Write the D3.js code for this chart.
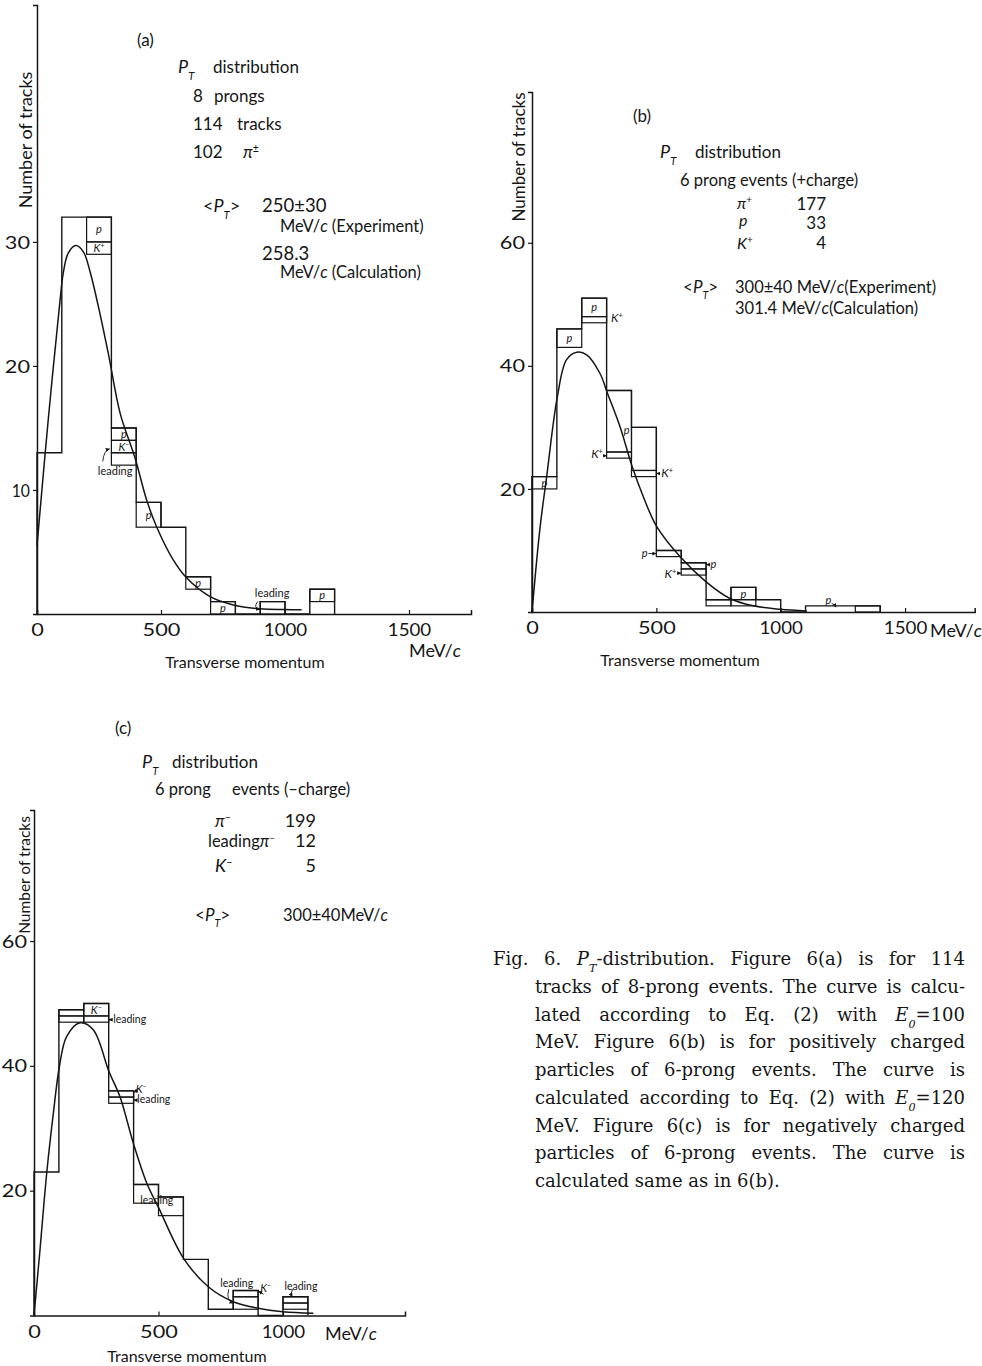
<!DOCTYPE html>
<html>
<head>
<meta charset="utf-8">
<script src="https://cdn.jsdelivr.net/npm/d3@7"></script>
<style>
  body { margin: 0; background: #fff; }
  svg { display: block; }
  text { fill: #151515; font-family: Lato, "Open Sans", sans-serif; }
</style>
</head>
<body>
<svg id="fig" width="982" height="1366"></svg>
<script>
// ---------- Panel (a): 8-prong events ----------
const binStartA = [0, 100, 200, 300, 400, 500, 600, 700, 800, 900, 1000, 1100];
const countsA   = [13, 32, 32, 15, 9, 7, 3, 1, 0, 1, 0, 2];
// sub-boxes stacked on the bins: [bin start, lower, upper, label]
const boxesA = [
  [200, 30, 32, "p"], [200, 29, 30, "K+"],
  [300, 14, 15, "p"], [300, 13, 14, "K-"], [300, 12, 13, ""],
  [400, 7, 9, "p"], [600, 2, 3, "p"], [700, 0, 1, "p"],
  [900, 0, 1, ""], [1100, 1, 2, "p"]
];
const curveA = [[0, 5.5], [45, 15.6], [93, 25.3], [106, 27.5], [126, 29.1], [157, 29.7], [187, 29.2],
  [214, 27.6], [254, 24.2], [290, 20.75], [335, 16.2], [395, 12.6], [442, 9.2], [483, 7.0],
  [550, 4.35], [604, 2.9], [698, 1.4], [792, 0.73], [899, 0.42], [1000, 0.36], [1067, 0.34]];
const xTicksA = [0, 500, 1000, 1500];
const yTicksA = [10, 20, 30];

// ---------- Panel (b): 6-prong events, positive charge ----------
const binStartB = [0, 100, 200, 300, 400, 500, 600, 700, 800, 900, 1000, 1100, 1200, 1300];
const countsB   = [22, 46, 51, 36, 30, 10, 8, 2, 4, 2, 0, 1, 1, 1];
const boxesB = [
  [0, 20, 22, "p"], [100, 43, 46, "p"], [200, 48, 51, "p"], [200, 47, 48, ""],
  [300, 26, 36, ""], [300, 25, 26, ""], [400, 23, 30, ""], [400, 22, 23, ""],
  [500, 9, 10, ""], [600, 7, 8, ""], [600, 6, 7, ""],
  [700, 1, 2, ""], [800, 2, 4, "p"], [800, 1, 2, ""], [1300, 0, 1, ""]
];
const curveB = [[0, 0], [32, 13.6], [59, 22], [102, 35], [139, 41], [180, 42.2], [220, 41.8],
  [273, 38.8], [303, 35.6], [354, 30.1], [403, 23.6], [448, 18.7], [501, 13.9], [595, 9.0],
  [700, 4.9], [796, 2.2], [890, 1.0], [997, 0.45], [1105, 0.18]];
const xTicksB = [0, 500, 1000, 1500];
const yTicksB = [20, 40, 60];

// ---------- Panel (c): 6-prong events, negative charge ----------
const binStartC = [0, 100, 200, 300, 400, 500, 600, 700, 800, 900, 1000];
const countsC   = [23, 49, 50, 36, 21, 19, 9, 1, 4, 0, 3];
const boxesC = [
  [100, 48, 49, ""], [100, 47, 48, ""], [200, 48, 50, "K-"], [200, 47, 48, ""],
  [300, 35, 36, ""], [300, 34, 35, ""], [400, 18, 21, ""], [500, 16, 19, ""],
  [800, 3, 4, ""], [800, 1, 3, ""], [1000, 2, 3, ""], [1000, 1, 2, ""]
];
const curveC = [[0, 0], [24, 10.5], [51, 22.8], [78, 32.5], [102, 39.9], [131, 44.7], [185, 46.9],
  [238, 45.8], [301, 39.1], [345, 35.1], [399, 27.6], [453, 21.2], [499, 17.4], [600, 9.2],
  [700, 4.6], [800, 2.2], [901, 1.15], [1000, 0.6], [1122, 0.35]];
const xTicksC = [0, 500, 1000];
const yTicksC = [20, 40, 60];

const BIN = 100; // bin width, MeV/c

const svg = d3.select("#fig");
const INK = "#151515";
const DIGIT_W = 12.6; // printed numerals are wide and geometric

// text with italic / super / subscript pieces
function rich(sel, x, y, parts, size, anchor) {
  const t = sel.append("text").attr("x", x).attr("y", y)
    .attr("font-size", size).attr("text-anchor", anchor || "start");
  parts.forEach(p => {
    const ts = t.append("tspan").text(p.t);
    if (p.i) ts.attr("font-style", "italic");
    if (p.sup) ts.attr("baseline-shift", "super").attr("font-size", size * 0.62);
    if (p.sub) ts.attr("baseline-shift", "sub").attr("font-size", size * 0.62).attr("font-style", "italic");
  });
  return t;
}
function particle(lbl) {
  if (lbl === "K+") return [{t: "K", i: 1}, {t: "+", sup: 1}];
  if (lbl === "K-") return [{t: "K", i: 1}, {t: "\u2013", sup: 1}];
  if (lbl === "pi+") return [{t: "\u03C0", i: 1}, {t: "+", sup: 1}];
  if (lbl === "pi-") return [{t: "\u03C0", i: 1}, {t: "\u2013", sup: 1}];
  if (lbl === "pi+-") return [{t: "\u03C0", i: 1}, {t: "\u00B1", sup: 1}];
  if (lbl === "p") return [{t: "p", i: 1}];
  return [{t: lbl}];
}
const PT = [{t: "P", i: 1}, {t: "T", sub: 1}];

svg.append("defs").append("marker")
  .attr("id", "ah").attr("viewBox", "0 0 6 6").attr("refX", 5).attr("refY", 3)
  .attr("markerWidth", 5).attr("markerHeight", 5).attr("orient", "auto")
  .append("path").attr("d", "M0,0.5 L6,3 L0,5.5 Z").attr("fill", INK);

function numeral(sel, d) {
  const s = String(d);
  const w = s.split("").reduce((a, c) => a + (c === "1" ? 0.45 : 1), 0) * DIGIT_W;
  sel.attr("font-family", "'DejaVu Sans', sans-serif").attr("font-size", 17)
    .attr("textLength", w).attr("lengthAdjust", "spacingAndGlyphs");
}

function drawPanel(cfg) {
  const g = svg.append("g");
  const x = cfg.x, y = cfg.y;

  // axes
  const ax = d3.axisLeft(y).tickValues(cfg.yTicks).tickSize(4).tickPadding(3).tickFormat(d3.format("d"));
  const gy = g.append("g").attr("transform", `translate(${x(0)},0)`).call(ax);
  gy.selectAll("text").attr("dy", "0.36em").each(function (d) { numeral(d3.select(this), d); });
  const bx = d3.axisBottom(x).tickValues(cfg.xTicks).tickSize(-4).tickPadding(10).tickFormat(d3.format("d"));
  const gx = g.append("g").attr("transform", `translate(0,${y(0)})`).call(bx);
  gx.selectAll("text").each(function (d) { numeral(d3.select(this), d); });
  [gx, gy].forEach(a => {
    a.select(".domain").attr("stroke", INK).attr("stroke-width", 1.5);
    a.selectAll(".tick line").attr("stroke", INK).attr("stroke-width", 1.2);
    a.selectAll("text").attr("fill", INK);
  });

  // histogram outline
  const pts = [[cfg.bins[0], 0]];
  cfg.bins.forEach((b, i) => { pts.push([b, cfg.counts[i]]); pts.push([b + BIN, cfg.counts[i]]); });
  pts.push([cfg.bins[cfg.bins.length - 1] + BIN, 0]);
  g.append("path")
    .attr("d", d3.line().x(d => x(d[0])).y(d => y(d[1]))(pts))
    .attr("fill", "none").attr("stroke", INK).attr("stroke-width", 1.4);

  // stacked particle boxes
  g.selectAll("rect.sub").data(cfg.boxes).join("rect").attr("class", "sub")
    .attr("x", d => x(d[0])).attr("width", d => x(d[0] + BIN) - x(d[0]))
    .attr("y", d => y(d[2])).attr("height", d => y(d[1]) - y(d[2]))
    .attr("fill", "none").attr("stroke", INK).attr("stroke-width", 1.2);
  cfg.boxes.filter(d => d[3]).forEach(d => {
    rich(g, x(d[0] + BIN / 2), (y(d[1]) + y(d[2])) / 2 + 4, particle(d[3]), cfg.boxFont, "middle");
  });

  // calculated curve
  g.append("path")
    .attr("d", d3.line().x(d => x(d[0])).y(d => y(d[1])).curve(d3.curveCatmullRom.alpha(0.5))(cfg.curve))
    .attr("fill", "none").attr("stroke", INK).attr("stroke-width", 1.5);

  // marginal labels and arrows (data coordinates)
  (cfg.notes || []).forEach(n => {
    rich(g, x(n[0]), y(n[1]), particle(n[2]), n[3] || cfg.boxFont, n[4] || "middle");
  });
  (cfg.arrows || []).forEach(a => {
    g.append("path")
      .attr("d", `M${x(a[0])},${y(a[1])} Q${x(a[2])},${y(a[3])} ${x(a[4])},${y(a[5])}`)
      .attr("fill", "none").attr("stroke", INK).attr("stroke-width", 0.9)
      .attr("marker-end", "url(#ah)");
  });
  return g;
}

// ---- scales ----
const xA = d3.scaleLinear().domain([0, 1750]).range([37, 471]);
const yA = d3.scaleLinear().domain([0, 49.1]).range([614, 5]);
const xB = d3.scaleLinear().domain([0, 1780]).range([532, 974.7]);
const yB = d3.scaleLinear().domain([0, 84.5]).range([612, 92]);
const xC = d3.scaleLinear().domain([0, 1490]).range([34, 405]);
const yC = d3.scaleLinear().domain([0, 81]).range([1315.5, 810]);

drawPanel({
  x: xA, y: yA, bins: binStartA, counts: countsA, boxes: boxesA, curve: curveA,
  xTicks: xTicksA, yTicks: yTicksA, boxFont: 11,
  notes: [[315, 11.2, "leading", 11], [948, 1.35, "leading", 11]],
  arrows: [[265, 12.3, 270, 13.2, 292, 13.3], [890, 1.0, 870, 0.5, 898, 0.35]]
});
drawPanel({
  x: xB, y: yB, bins: binStartB, counts: countsB, boxes: boxesB, curve: curveB,
  xTicks: xTicksB, yTicks: yTicksB, boxFont: 11,
  notes: [[318, 47.2, "K+", 12, "start"], [381, 29, "p", 11], [285, 25.0, "K+", 12, "end"],
          [520, 21.9, "K+", 12, "start"], [465, 9.0, "p", 11, "end"], [718, 7.2, "p", 11, "start"],
          [580, 5.6, "K+", 12, "end"], [1192, 1.25, "p", 11]],
  arrows: [[286, 25.4, 293, 25.4, 299, 25.4], [515, 22.5, 508, 22.5, 501, 22.5],
           [468, 9.5, 485, 9.5, 499, 9.5], [715, 7.7, 708, 7.7, 701, 7.7],
           [582, 6.3, 590, 6.3, 599, 6.3], [1205, 1.4, 1215, 1.3, 1222, 0.8]]
});
drawPanel({
  x: xC, y: yC, bins: binStartC, counts: countsC, boxes: boxesC, curve: curveC,
  xTicks: xTicksC, yTicks: yTicksC, boxFont: 11,
  notes: [[318, 46.9, "leading", 10.5, "start"], [430, 35.6, "K-", 11, "middle"],
          [415, 34.0, "leading", 10.5, "start"], [493, 17.8, "leading", 10.5],
          [814, 4.6, "leading", 10.5], [930, 3.8, "K-", 11], [1072, 4.1, "leading", 10.5]],
  arrows: [[314, 47.4, 308, 47.4, 301, 47.4], [419, 36.2, 410, 36.0, 401, 35.8],
           [412, 34.5, 406, 34.5, 401, 34.5], [782, 4.2, 770, 2.4, 800, 2.0],
           [922, 3.4, 915, 3.6, 902, 3.9], [1038, 4.2, 1030, 3.6, 1036, 3.0]]
});

// ---- axis titles ----
function ytitle(cx, cy, size) {
  svg.append("text").attr("transform", `translate(${cx},${cy}) rotate(-90)`)
    .attr("text-anchor", "middle").attr("font-size", size).text("Number of tracks");
}
ytitle(32, 140, 18);
ytitle(525, 157, 17);
ytitle(30, 875, 15.5);

svg.append("text").attr("x", 245).attr("y", 668).attr("text-anchor", "middle").attr("font-size", 16).text("Transverse momentum");
rich(svg, 409, 657, [{t: "MeV/"}, {t: "c", i: 1}], 18, "start");
svg.append("text").attr("x", 680).attr("y", 666).attr("text-anchor", "middle").attr("font-size", 16).text("Transverse momentum");
rich(svg, 930, 637, [{t: "MeV/"}, {t: "c", i: 1}], 18, "start");
svg.append("text").attr("x", 187).attr("y", 1362).attr("text-anchor", "middle").attr("font-size", 16).text("Transverse momentum");
rich(svg, 325, 1340, [{t: "MeV/"}, {t: "c", i: 1}], 18, "start");

// ---- panel (a) notes ----
svg.append("text").attr("x", 137).attr("y", 46).attr("font-size", 17).text("(a)");
rich(svg, 178, 73, PT, 18);
svg.append("text").attr("x", 213).attr("y", 73).attr("font-size", 17).text("distribution");
svg.append("text").attr("x", 193).attr("y", 102).attr("font-size", 17).text("8");
svg.append("text").attr("x", 214).attr("y", 102).attr("font-size", 17).text("prongs");
svg.append("text").attr("x", 193).attr("y", 130).attr("font-size", 17).text("114");
svg.append("text").attr("x", 237).attr("y", 130).attr("font-size", 17).text("tracks");
svg.append("text").attr("x", 193).attr("y", 158).attr("font-size", 17).text("102");
rich(svg, 243, 158, particle("pi+-"), 17);
rich(svg, 203, 212, [{t: "<"}].concat(PT, [{t: ">"}]), 18);
svg.append("text").attr("x", 262).attr("y", 212).attr("font-size", 18.5).text("250\u00B130");
rich(svg, 280, 232, [{t: "MeV/"}, {t: "c", i: 1}, {t: " (Experiment)"}], 16.5);
svg.append("text").attr("x", 262).attr("y", 260).attr("font-size", 18.5).text("258.3");
rich(svg, 280, 278, [{t: "MeV/"}, {t: "c", i: 1}, {t: " (Calculation)"}], 16.5);

// ---- panel (b) notes ----
svg.append("text").attr("x", 633).attr("y", 122).attr("font-size", 17).text("(b)");
rich(svg, 660, 158, PT, 18);
svg.append("text").attr("x", 695).attr("y", 158).attr("font-size", 17).text("distribution");
svg.append("text").attr("x", 680).attr("y", 186).attr("font-size", 16.5).text("6 prong events (+charge)");
rich(svg, 737, 209, particle("pi+"), 16);
svg.append("text").attr("x", 826).attr("y", 210).attr("text-anchor", "end").attr("font-size", 17).text("177");
rich(svg, 739, 226, particle("p"), 16);
svg.append("text").attr("x", 826).attr("y", 229).attr("text-anchor", "end").attr("font-size", 17).text("33");
rich(svg, 737, 249, particle("K+"), 16);
svg.append("text").attr("x", 826).attr("y", 249).attr("text-anchor", "end").attr("font-size", 17).text("4");
rich(svg, 683, 293, [{t: "<"}].concat(PT, [{t: ">"}]), 17);
rich(svg, 735, 293, [{t: "300\u00B140 MeV/"}, {t: "c", i: 1}, {t: "(Experiment)"}], 16.5);
rich(svg, 735, 314, [{t: "301.4  MeV/"}, {t: "c", i: 1}, {t: "(Calculation)"}], 16.5);

// ---- panel (c) notes ----
svg.append("text").attr("x", 115).attr("y", 734).attr("font-size", 17).text("(c)");
rich(svg, 142, 768, PT, 18);
svg.append("text").attr("x", 172).attr("y", 768).attr("font-size", 17).text("distribution");
svg.append("text").attr("x", 155).attr("y", 795).attr("font-size", 16.5).text("6 prong");
svg.append("text").attr("x", 232).attr("y", 795).attr("font-size", 16.5).text("events (\u2013charge)");
rich(svg, 215, 827, particle("pi-"), 17);
svg.append("text").attr("x", 316).attr("y", 827).attr("text-anchor", "end").attr("font-size", 18).text("199");
rich(svg, 208, 847, [{t: "leading"}, {t: "\u03C0", i: 1}, {t: "\u2013", sup: 1}], 16.5);
svg.append("text").attr("x", 316).attr("y", 847).attr("text-anchor", "end").attr("font-size", 18).text("12");
rich(svg, 215, 872, particle("K-"), 18);
svg.append("text").attr("x", 316).attr("y", 872).attr("text-anchor", "end").attr("font-size", 18).text("5");
rich(svg, 195, 921, [{t: "<"}].concat(PT, [{t: ">"}]), 17);
rich(svg, 283, 921, [{t: "300\u00B140MeV/"}, {t: "c", i: 1}], 16.5);

// ---- caption (justified lines) ----
const capLines = [
  [[{t: "Fig. 6. "}, {t: "P", i: 1}, {t: "T", sub: 1}, {t: "-distribution. Figure 6(a) is for 114"}], 493, true],
  [[{t: "tracks of 8-prong events. The curve is calcu-"}], 535, true],
  [[{t: "lated according to Eq. (2) with "}, {t: "E", i: 1}, {t: "0", sub: 1}, {t: "=100"}], 535, true],
  [[{t: "MeV. Figure 6(b) is for positively charged"}], 535, true],
  [[{t: "particles of 6-prong events. The curve is"}], 535, true],
  [[{t: "calculated according to Eq. (2) with "}, {t: "E", i: 1}, {t: "0", sub: 1}, {t: "=120"}], 535, true],
  [[{t: "MeV. Figure 6(c) is for negatively charged"}], 535, true],
  [[{t: "particles of 6-prong events. The curve is"}], 535, true],
  [[{t: "calculated same as in 6(b)."}], 535, false]
];
const capRight = 965, capTop = 965, capLead = 27.75;
const SERIF = "'DejaVu Serif', 'Liberation Serif', serif";
capLines.forEach((ln, i) => {
  const t = rich(svg, ln[1], capTop + i * capLead, ln[0], 18, "start").attr("font-family", SERIF);
  t.selectAll("tspan").attr("font-family", SERIF);
  if (ln[2]) {
    const w = t.node().getComputedTextLength();
    const spaces = ln[0].map(p => p.t).join("").split(" ").length - 1;
    if (spaces > 0) t.attr("word-spacing", (capRight - ln[1] - w) / spaces);
  }
});
</script>
</body>
</html>
